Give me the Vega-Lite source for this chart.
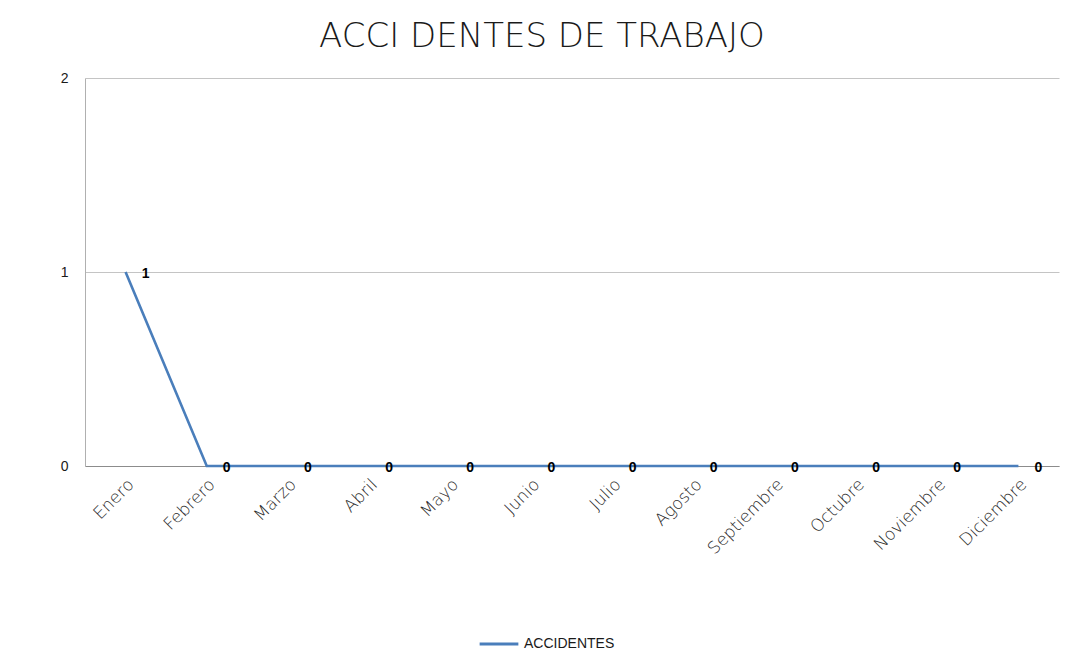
{
  "$schema": "https://vega.github.io/schema/vega-lite/v6.json",
  "width": 974,
  "height": 388,
  "autosize": {"type": "none"},
  "padding": {"left": 85, "top": 78, "right": 11, "bottom": 201},
  "background": "white",
  "title": {
    "text": "ACCI DENTES DE TRABAJO",
    "font": "DejaVu Sans",
    "fontSize": 34,
    "fontWeight": 200,
    "color": "#1a1a1a",
    "anchor": "middle",
    "offset": 17,
    "dx": -30
  },
  "data": {
    "values": [
      {"mes": "Enero", "valor": 1, "serie": "ACCIDENTES"},
      {"mes": "Febrero", "valor": 0, "serie": "ACCIDENTES"},
      {"mes": "Marzo", "valor": 0, "serie": "ACCIDENTES"},
      {"mes": "Abril", "valor": 0, "serie": "ACCIDENTES"},
      {"mes": "Mayo", "valor": 0, "serie": "ACCIDENTES"},
      {"mes": "Junio", "valor": 0, "serie": "ACCIDENTES"},
      {"mes": "Julio", "valor": 0, "serie": "ACCIDENTES"},
      {"mes": "Agosto", "valor": 0, "serie": "ACCIDENTES"},
      {"mes": "Septiembre", "valor": 0, "serie": "ACCIDENTES"},
      {"mes": "Octubre", "valor": 0, "serie": "ACCIDENTES"},
      {"mes": "Noviembre", "valor": 0, "serie": "ACCIDENTES"},
      {"mes": "Diciembre", "valor": 0, "serie": "ACCIDENTES"}
    ]
  },
  "encoding": {
    "x": {
      "field": "mes",
      "type": "nominal",
      "sort": null,
      "scale": {"type": "band", "paddingInner": 0, "paddingOuter": 0},
      "axis": {
        "title": null,
        "labelAngle": -45,
        "labelAlign": "right",
        "labelBaseline": "top",
        "labelFont": "DejaVu Sans",
        "labelFontSize": 17,
        "labelFontWeight": 200,
        "labelColor": "#2a2a2a",
        "labelPadding": 10,
        "labelOverlap": false,
        "ticks": false,
        "domainColor": "#8c8c8c",
        "domainWidth": 1,
        "grid": false
      }
    },
    "y": {
      "field": "valor",
      "type": "quantitative",
      "scale": {"domain": [0, 2]},
      "axis": {
        "title": null,
        "values": [0, 1, 2],
        "labelExpr": "datum.value + ''",
        "labelFont": "Liberation Sans",
        "labelFontSize": 14,
        "labelColor": "#1a1a1a",
        "labelPadding": 17,
        "ticks": false,
        "domainColor": "#b0b0b0",
        "grid": true,
        "gridColor": "#c4c4c4",
        "gridWidth": 1
      }
    }
  },
  "layer": [
    {
      "mark": {"type": "line", "strokeWidth": 2.6},
      "encoding": {
        "color": {
          "field": "serie",
          "type": "nominal",
          "scale": {"range": ["#4A7EBB"]},
          "legend": {
            "title": null,
            "orient": "none",
            "legendX": 393,
            "legendY": 545,
            "symbolType": "stroke",
            "symbolSize": 1500,
            "symbolStrokeWidth": 3,
            "labelFont": "Liberation Sans",
            "labelFontSize": 14,
            "labelColor": "#1a1a1a",
            "labelOffset": 4
          }
        }
      }
    },
    {
      "mark": {
        "type": "text",
        "dx": 20,
        "dy": 2,
        "font": "Liberation Sans",
        "fontSize": 14,
        "fontWeight": "bold",
        "color": "#000000"
      },
      "encoding": {
        "text": {"field": "valor", "type": "quantitative"}
      }
    }
  ],
  "config": {
    "view": {"stroke": null}
  }
}
